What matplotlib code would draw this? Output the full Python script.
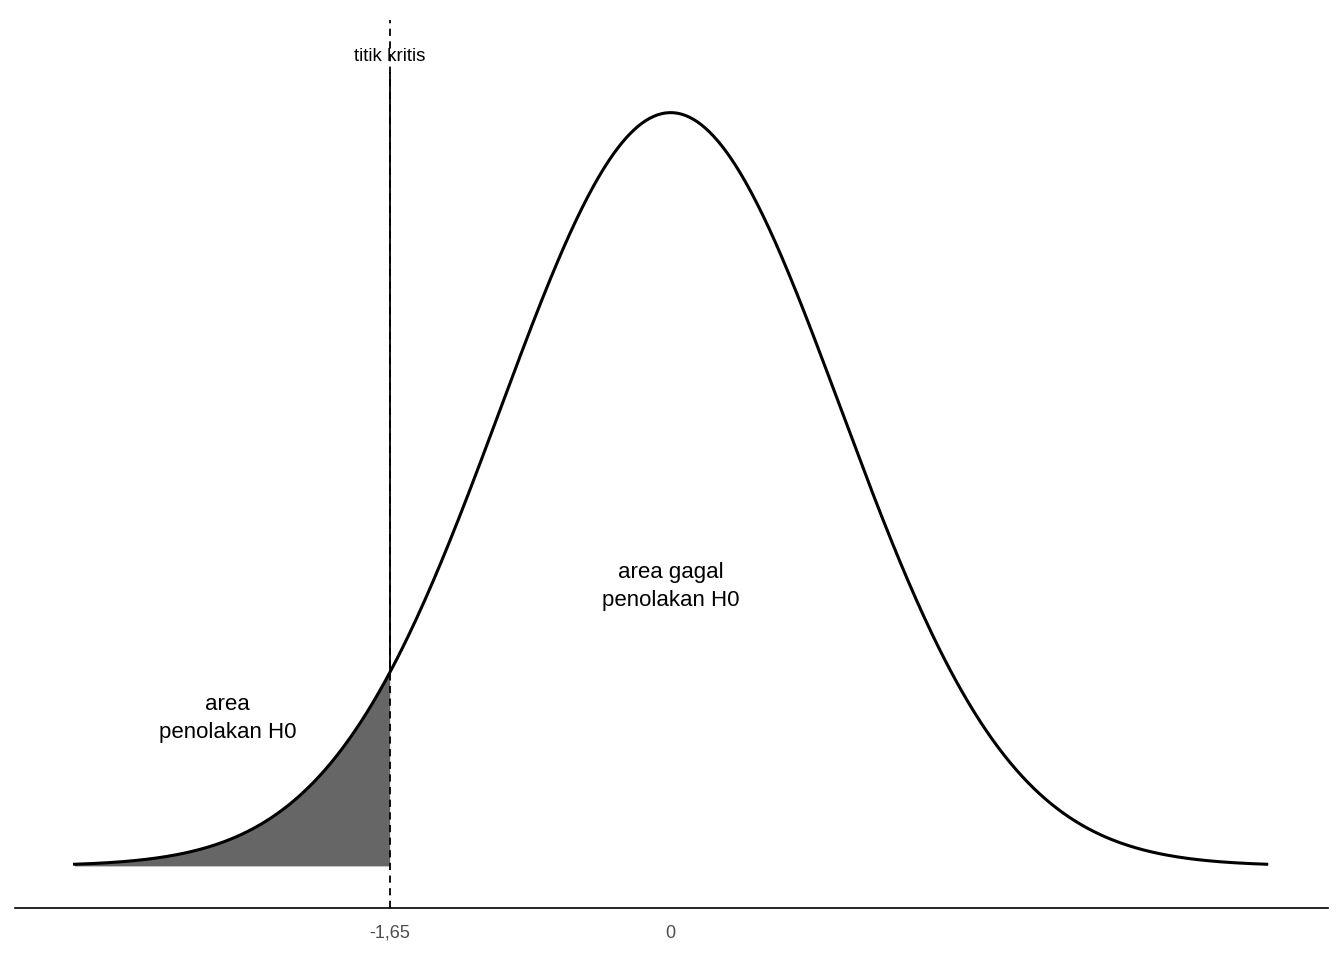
import numpy as np
import matplotlib.pyplot as plt

plt.rcParams['font.family'] = ['Liberation Sans', 'DejaVu Sans']

x_min, x_max = -3.5, 3.5
crit = -1.65
tick_pos = [-1.65, 0]
tick_labels = ["-1,65", "0"]

x = np.linspace(x_min, x_max, 600)
y = np.exp(-x**2 / 2) / np.sqrt(2 * np.pi)
y_crit = np.exp(-crit**2 / 2) / np.sqrt(2 * np.pi)

fig = plt.figure(figsize=(13.44, 9.6), dpi=100)
ax = fig.add_axes([15/1344, 1 - 908/960, 1313/1344, 888/960])

mask = x <= crit
ax.fill_between(np.append(x[mask], crit), 0, np.append(y[mask], y_crit), color="#666666", lw=0)
ax.plot(x, y, color="black", lw=2.2)
ax.axvline(crit, color="black", ls=(0, (4, 3)), lw=1.3)
ax.plot([crit, crit], [y_crit, 0.42], color="black", lw=1.3)

ax.text(crit, 0.4286, "titik kritis", ha="center", va="center", fontsize=13.5)
ax.text(0, 0.148, "area gagal\npenolakan H0", ha="center", va="center", fontsize=16, linespacing=1.45)
ax.text(-2.6, 0.078, "area\npenolakan H0", ha="center", va="center", fontsize=16, linespacing=1.45)

ax.set_xlim(-3.85, 3.86)
ax.set_ylim(-0.0223, 0.448)
ax.set_xticks(tick_pos)
ax.set_xticklabels(tick_labels, color="#4d4d4d", fontsize=13)
ax.set_yticks([])
ax.tick_params(axis="x", length=0, pad=12)
for s in ["top", "right", "left"]:
    ax.spines[s].set_visible(False)
ax.spines["bottom"].set_linewidth(1.2)

fig.savefig("out.png", dpi=100)
